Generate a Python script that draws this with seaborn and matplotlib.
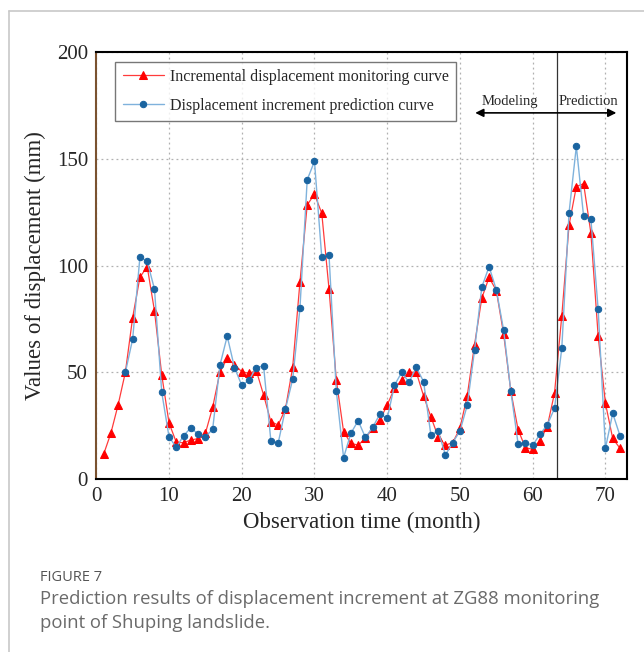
import numpy as np
import pandas as pd
import seaborn as sns
import matplotlib
matplotlib.use('Agg')
import matplotlib.pyplot as plt
from matplotlib.lines import Line2D
from matplotlib.ticker import MultipleLocator

months_obs = list(range(1, 73))
monitoring = [11.5, 21.4, 34.7, 50.0, 75.6, 94.5, 99.5, 78.8, 48.8, 26.3,
              17.2, 17.0, 18.3, 18.9, 21.4, 33.6, 50.0, 56.6, 53.6, 50.3,
              49.5, 50.8, 39.4, 26.9, 25.3, 32.7, 52.3, 92.2, 128.4, 133.4,
              124.5, 88.9, 46.4, 22.2, 16.7, 15.9, 19.0, 24.0, 27.7, 34.7,
              42.5, 46.4, 50.0, 50.0, 38.9, 29.2, 19.8, 15.9, 17.0, 23.8,
              39.0, 62.8, 84.7, 94.4, 88.3, 68.0, 41.0, 23.0, 14.7, 13.9,
              18.0, 24.5, 40.3, 76.4, 119.0, 137.0, 138.3, 115.2, 67.0, 35.5,
              19.0, 14.4]

months_pred = list(range(4, 73))
prediction = [50.0, 65.5, 104.0, 102.0, 89.0, 40.6, 19.8, 14.8, 20.3, 24.0,
              21.0, 19.8, 23.3, 53.3, 66.9, 52.2, 43.9, 46.2, 52.2, 53.0,
              18.0, 16.7, 32.7, 46.7, 80.0, 140.2, 148.8, 103.8, 104.7, 41.3,
              10.0, 21.4, 27.3, 19.5, 24.2, 30.5, 28.4, 44.0, 50.0, 45.3,
              52.3, 45.6, 20.6, 22.5, 11.3, 17.0, 22.5, 34.5, 60.2, 89.8,
              99.5, 88.6, 69.8, 41.0, 16.3, 17.0, 15.8, 21.0, 25.3, 33.1,
              61.3, 124.8, 155.8, 123.0, 121.7, 79.5, 14.4, 30.8, 20.3]

split_month = 63.4

sns.set_style('white')
plt.rcParams['font.family'] = ['Liberation Serif', 'DejaVu Serif']

fig = plt.figure(figsize=(6.44, 6.52), dpi=100)
ax = fig.add_axes([0.1495, 0.2653, 0.8245, 0.6549])

df_obs = pd.DataFrame({'month': months_obs, 'value': monitoring})
df_pred = pd.DataFrame({'month': months_pred, 'value': prediction})

sns.lineplot(data=df_obs, x='month', y='value', ax=ax, color='#ff3b3b', lw=0.9,
             marker='^', markersize=5.8, markerfacecolor='#ff0000',
             markeredgecolor='#ff0000', label='Incremental displacement monitoring curve')
sns.lineplot(data=df_pred, x='month', y='value', ax=ax, color='#7fb2dc', lw=1.0,
             marker='o', markersize=4.6, markerfacecolor='#1a64a0',
             markeredgecolor='#1a64a0', label='Displacement increment prediction curve')

ax.set_xlim(0, 73)
ax.set_ylim(0, 200)
ax.xaxis.set_major_locator(MultipleLocator(10))
ax.xaxis.set_minor_locator(MultipleLocator(5))
ax.yaxis.set_major_locator(MultipleLocator(50))
ax.yaxis.set_minor_locator(MultipleLocator(25))
ax.tick_params(which='major', direction='in', length=6, width=1.3, labelsize=15, pad=6)
ax.tick_params(which='minor', direction='in', length=3.5, width=1.1)
ax.tick_params(axis='y', which='both', color='#7a5230')
ax.grid(True, which='major', ls=(0, (1.5, 2.5)), color='#b0b0b0', lw=0.9)

for s in ['top', 'right', 'bottom']:
    ax.spines[s].set_color('black')
    ax.spines[s].set_linewidth(1.5)
ax.spines['left'].set_color('#7a5230')
ax.spines['left'].set_linewidth(1.5)

ax.set_xlabel('Observation time (month)', fontsize=16.5, labelpad=4)
ax.set_ylabel('Values of displacement (mm)', fontsize=16.5, labelpad=8)

# modeling / prediction split
ax.axvline(split_month, color='#333333', lw=0.9)
ax.annotate('', xy=(52.1, 171.5), xytext=(71.5, 171.5),
            arrowprops=dict(arrowstyle='<|-|>', color='black', lw=1.2,
                            mutation_scale=12, shrinkA=0, shrinkB=0))
ax.text(56.9, 176.8, 'Modeling', ha='center', va='center', fontsize=10.5)
ax.text(67.6, 176.8, 'Prediction', ha='center', va='center', fontsize=10.5)

leg = ax.legend(loc='upper left', bbox_to_anchor=(0.036, 0.977), borderaxespad=0,
                fontsize=11.5, frameon=True, fancybox=False, handlelength=2.6,
                handletextpad=0.35, borderpad=0.45, labelspacing=0.8)
leg.get_frame().set_edgecolor('#555555')
leg.get_frame().set_linewidth(1.0)

# card border and caption
fig.add_artist(Line2D([0.0145, 1.0], [0.983, 0.983], color='#c8c8c8', lw=1.2,
                      transform=fig.transFigure))
fig.add_artist(Line2D([0.0145, 0.0145], [0.0, 0.983], color='#c8c8c8', lw=1.2,
                      transform=fig.transFigure))
fig.text(0.062, 0.1135, 'FIGURE 7', fontsize=10.5, color='#555555',
         family=['Open Sans', 'DejaVu Sans'], va='center', ha='left')
fig.text(0.062, 0.0813, 'Prediction results of displacement increment at ZG88 monitoring',
         fontsize=13.3, color='#6a6a6a', family=['Open Sans', 'DejaVu Sans'],
         va='center', ha='left')
fig.text(0.062, 0.0445, 'point of Shuping landslide.',
         fontsize=13.3, color='#6a6a6a', family=['Open Sans', 'DejaVu Sans'],
         va='center', ha='left')

fig.savefig('out.png', dpi=100)
